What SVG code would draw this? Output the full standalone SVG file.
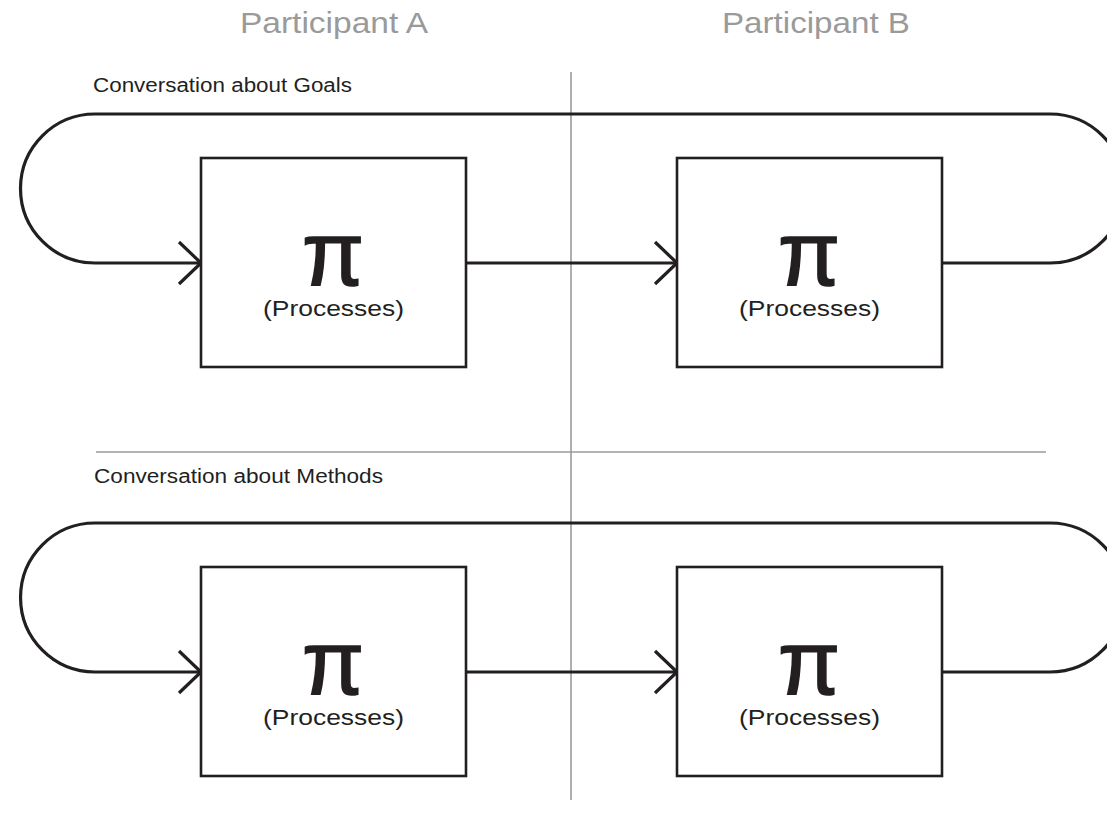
<svg xmlns="http://www.w3.org/2000/svg" width="1107" height="829" viewBox="0 0 1107 829">
  <style>
    .lane { fill: none; stroke: #9b9b9b; stroke-width: 1.6; }
    .head { font-family: "Liberation Sans", Arial, sans-serif; font-size: 30px; fill: #9a9a9a; text-anchor: middle; }
    .topic { font-family: "Liberation Sans", Arial, sans-serif; font-size: 20px; fill: #231f20; }
    .box { fill: #ffffff; stroke: #231f20; stroke-width: 2.6; }
    .pi { font-family: "Liberation Sans", Arial, sans-serif; font-size: 90px; fill: #231f20; stroke: #231f20; stroke-width: 1.6; text-anchor: middle; }
    .lbl { font-family: "Liberation Sans", Arial, sans-serif; font-size: 22px; fill: #231f20; text-anchor: middle; }
    .flow { fill: none; stroke: #231f20; stroke-width: 3.2; stroke-linejoin: round; }
  </style>
  <defs>
    <marker id="chevron" markerUnits="userSpaceOnUse" markerWidth="30" markerHeight="50" viewBox="-26 -25 30 50" refX="0" refY="0" orient="auto">
      <path d="M -22 -21 L 0 0 L -22 21" fill="none" stroke="#231f20" stroke-width="3.2"/>
    </marker>
  </defs>

  <!-- lane dividers -->
  <g id="dividers">
    <line class="lane" x1="571" y1="72" x2="571" y2="800"/>
    <line class="lane" x1="96" y1="452" x2="1046" y2="452"/>
  </g>

  <!-- column headings -->
  <g id="headings">
    <text class="head" x="334" y="33" textLength="188" lengthAdjust="spacingAndGlyphs">Participant A</text>
    <text class="head" x="816" y="33" textLength="188" lengthAdjust="spacingAndGlyphs">Participant B</text>
  </g>

  <!-- section titles -->
  <g id="titles">
    <text class="topic" x="93" y="92" textLength="259" lengthAdjust="spacingAndGlyphs">Conversation about Goals</text>
    <text class="topic" x="94" y="483" textLength="289" lengthAdjust="spacingAndGlyphs">Conversation about Methods</text>
  </g>

  <!-- connectors -->
  <g id="connectors">
    <!-- goals loop: B back around to A -->
    <path class="flow" d="M 942 263 L 1050 263 A 74.5 74.5 0 0 0 1050 114 L 95 114 A 74.5 74.5 0 0 0 95 263 L 201 263" marker-end="url(#chevron)"/>
    <path class="flow" d="M 466 263 L 677 263" marker-end="url(#chevron)"/>
    <!-- methods loop -->
    <path class="flow" d="M 942 672 L 1050 672 A 74.5 74.5 0 0 0 1050 523 L 95 523 A 74.5 74.5 0 0 0 95 672 L 201 672" marker-end="url(#chevron)"/>
    <path class="flow" d="M 466 672 L 677 672" marker-end="url(#chevron)"/>
  </g>

  <!-- process nodes -->
  <g id="goals-a">
    <rect class="box" x="201" y="158" width="265" height="209"/>
    <text class="pi" x="333" y="285">π</text>
    <text class="lbl" x="333.5" y="316" textLength="141" lengthAdjust="spacingAndGlyphs">(Processes)</text>
  </g>
  <g id="goals-b">
    <rect class="box" x="677" y="158" width="265" height="209"/>
    <text class="pi" x="809" y="285">π</text>
    <text class="lbl" x="809.5" y="316" textLength="141" lengthAdjust="spacingAndGlyphs">(Processes)</text>
  </g>
  <g id="methods-a">
    <rect class="box" x="201" y="567" width="265" height="209"/>
    <text class="pi" x="333" y="694">π</text>
    <text class="lbl" x="333.5" y="725" textLength="141" lengthAdjust="spacingAndGlyphs">(Processes)</text>
  </g>
  <g id="methods-b">
    <rect class="box" x="677" y="567" width="265" height="209"/>
    <text class="pi" x="809" y="694">π</text>
    <text class="lbl" x="809.5" y="725" textLength="141" lengthAdjust="spacingAndGlyphs">(Processes)</text>
  </g>
</svg>
